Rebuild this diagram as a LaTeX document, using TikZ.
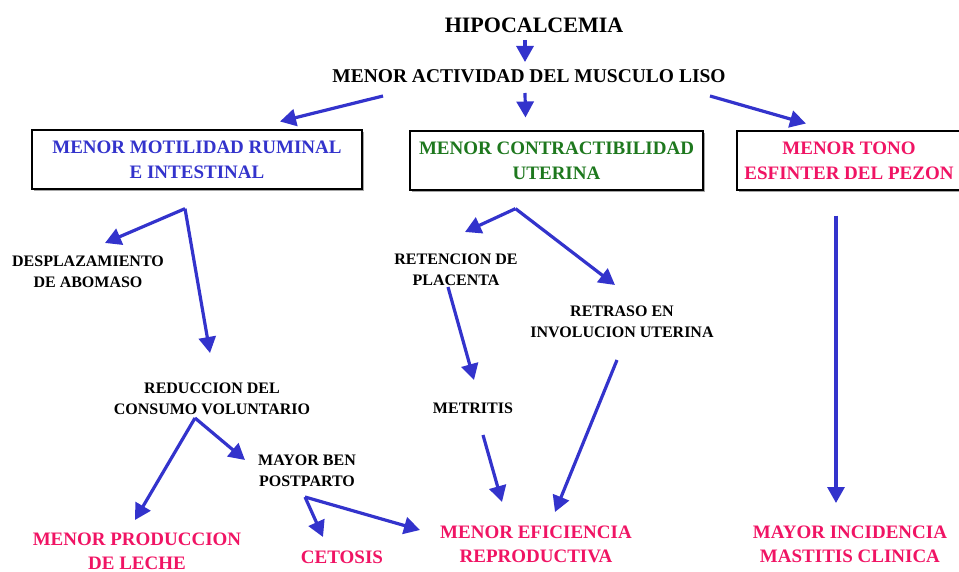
\documentclass[tikz,border=0pt]{standalone}
\usepackage{fontspec}
\setmainfont{Liberation Serif}
\usetikzlibrary{arrows.meta,calc,shadows}
\definecolor{arrblue}{RGB}{51,51,204}
\definecolor{txtblue}{RGB}{51,51,204}
\definecolor{txtgreen}{RGB}{30,120,30}
\definecolor{txtpink}{RGB}{240,20,100}
\tikzset{
  arr/.style={draw=arrblue, line width=3.2pt, -{Triangle[length=16pt,width=17pt]}},
  lbl/.style={inner sep=0pt, align=center, font=\bfseries\fontsize{16}{21}\selectfont},
  outc/.style={inner sep=0pt, align=center, text=txtpink, font=\bfseries\fontsize{19}{24}\selectfont},
  boxn/.style={draw=black, line width=1.3pt, fill=white, minimum height=59pt, inner sep=0pt, align=center,
     font=\bfseries\fontsize{19}{25}\selectfont, drop shadow={shadow xshift=2pt, shadow yshift=-2pt, fill=gray!70, opacity=1}}
}
\begin{document}
\begin{tikzpicture}[x=1pt,y=-1pt]
\useasboundingbox (0,0) rectangle (959,572);
% top
\node[inner sep=0pt, font=\bfseries\fontsize{22}{24}\selectfont] (hipo) at (534,25) {HIPOCALCEMIA};
\node[inner sep=0pt, font=\bfseries\fontsize{19.5}{22}\selectfont] (act) at (529,76) {MENOR ACTIVIDAD DEL MUSCULO LISO};
% boxes
\node[boxn, minimum width=330pt, text=txtblue] (box1) at (197,159.5) {MENOR MOTILIDAD RUMINAL\\E INTESTINAL};
\node[boxn, minimum width=293pt, text=txtgreen] (box2) at (556.5,160.5) {MENOR CONTRACTIBILIDAD\\UTERINA};
\node[boxn, minimum width=232pt, text=txtpink] (box3) at (853,160.5) {\hspace*{-8pt}MENOR TONO\\\hspace*{-8pt}ESFINTER DEL PEZON};
% middle labels
\node[lbl] (desp) at (88,272) {DESPLAZAMIENTO\\DE ABOMASO};
\node[lbl] (red) at (212,399) {REDUCCION DEL\\CONSUMO VOLUNTARIO};
\node[lbl] (ben) at (307,471) {MAYOR BEN\\POSTPARTO};
\node[lbl] (ret) at (456,270) {RETENCION DE\\PLACENTA};
\node[lbl] (retr) at (622,322) {RETRASO EN\\INVOLUCION UTERINA};
\node[lbl] (met) at (473,408) {METRITIS};
% outcomes
\node[outc] (leche) at (137,551) {MENOR PRODUCCION\\DE LECHE};
\node[outc] (cet) at (342,557) {CETOSIS};
\node[outc] (efic) at (536,544) {MENOR EFICIENCIA\\REPRODUCTIVA};
\node[outc] (mast) at (850,544) {MAYOR INCIDENCIA\\MASTITIS CLINICA};
% branch points
\coordinate (b1) at ($(box1.south)+(-12,19)$);
\coordinate (b2) at ($(box2.south)+(-41,18)$);
% arrows
\draw[arr] ($(hipo.center)+(-9,15)$) -- ($(act.center)+(-4,-14)$);
\draw[arr] ($(act.center)+(-146,20)$) -- ($(box1.center)+(83,-38)$);
\draw[arr] ($(act.center)+(-4,17)$) -- ($(box2.center)+(-31,-43)$);
\draw[arr] ($(act.center)+(181,20)$) -- ($(box3.center)+(-47,-37)$);
\draw[arr] (b1) -- ($(desp.center)+(17,-29)$);
\draw[arr] (b1) -- ($(red.center)+(-2,-46)$);
\draw[arr] ($(red.center)+(-17,19)$) -- ($(leche.center)+(-2,-31)$);
\draw[arr] ($(red.center)+(-17,19)$) -- ($(ben.center)+(-62,-11)$);
\draw[arr] ($(ben.center)+(-2,26)$) -- ($(cet.center)+(-19,-20)$);
\draw[arr] ($(ben.center)+(-2,26)$) -- ($(efic.center)+(-116,-14)$);
\draw[arr] (b2) -- ($(ret.center)+(9,-38)$);
\draw[arr] (b2) -- ($(retr.center)+(-7,-37)$);
\draw[arr] ($(ret.center)+(-8,17)$) -- ($(met.center)+(1,-28)$);
\draw[arr] ($(met.center)+(10,27)$) -- ($(efic.center)+(-34,-42)$);
\draw[arr] ($(retr.center)+(-5,38)$) -- ($(efic.center)+(19,-32)$);
\draw[arr] ($(box3.south)+(-17,25)$) -- ($(mast.center)+(-14,-41)$);
\end{tikzpicture}
\end{document}
